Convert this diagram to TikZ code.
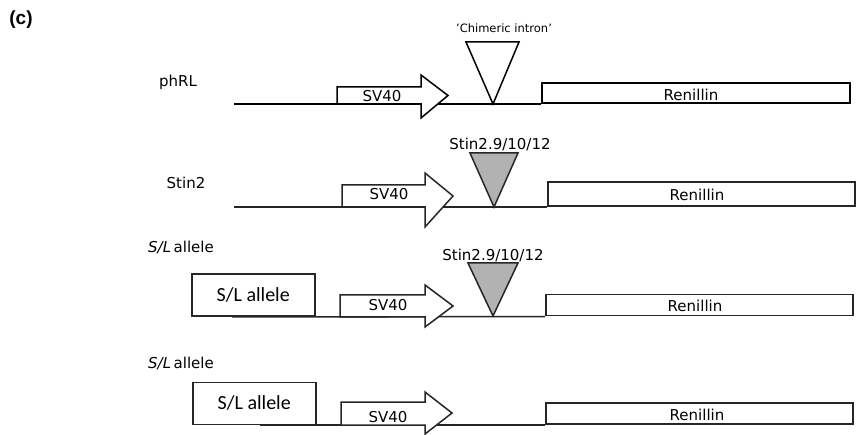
\documentclass[tikz,border=0pt]{standalone}
\usepackage{fontspec}
\setmainfont{DejaVu Sans}
\newfontfamily\carlito{Carlito}
\newfontfamily\arialf{Liberation Sans}
\tikzset{
  lbl/.style={inner sep=0pt, font=\fontsize{15}{15}\selectfont},
  small/.style={inner sep=0pt, font=\fontsize{11.5}{12}\selectfont},
  bb/.style={line width=1.5pt},
  renbox/.style={draw, line width=1.8pt, fill=white, inner sep=0pt, anchor=south west,
     font=\fontsize{15}{15}\selectfont},
  slbox/.style={draw, line width=1.5pt, fill=white, inner sep=0pt, anchor=south west,
     minimum width=123pt, minimum height=42pt, font=\carlito\fontsize{20}{20}\selectfont},
  sv/.style={draw, line width=1.5pt, fill=white, line join=miter},
  tri/.style={draw, line width=1.5pt, line join=miter},
}
\begin{document}
\begin{tikzpicture}[x=1pt,y=-1pt]
\useasboundingbox (0,0) rectangle (856,435);

\node[inner sep=0pt, font=\arialf\bfseries\fontsize{19}{19}\selectfont] (c) at (21,20) {(c)};

% ---------- row 1: phRL ----------
\begin{scope}
\node[lbl] (lab1) at (178,82) {phRL};
\coordinate (s1) at (234,104);
\node[renbox, minimum width=308pt, minimum height=20pt] (ren1) at (541,104) {};
\node[lbl] (rt1) at (691,95) {Renillin};
\draw[bb] (s1) -- (ren1.south west);
\draw[sv] (337,87) -- (421,87) -- (421,75) -- (448,95.5) -- (421,118) -- (421,104) -- (337,104) -- cycle;
\node[lbl] (sv1) at (382,96) {SV40};
\coordinate (t1) at (493,104);
\draw[tri, fill=white] (466,42) -- (519,42) -- (t1) -- cycle;
\node[small] (ci) at (504,28) {'Chimeric intron'};
\end{scope}

% ---------- row 2: Stin2 ----------
\begin{scope}[black!85]
\node[lbl, text=black] (lab2) at (186,183) {Stin2};
\coordinate (s2) at (234,207);
\node[renbox, minimum width=307pt, minimum height=24pt] (ren2) at (547,207) {};
\node[lbl, text=black] (rt2) at (697,195) {Renillin};
\draw[bb] (s2) -- (ren2.south west);
\draw[sv] (342,185) -- (425,185) -- (425,173) -- (453,196) -- (425,227) -- (425,207) -- (342,207) -- cycle;
\node[lbl, text=black] (sv2) at (389,194) {SV40};
\coordinate (t2) at (494,207);
\draw[tri, fill=black!30] (470,153) -- (518,153) -- (t2) -- cycle;
\node[lbl, text=black] (st2) at (500,145) {Stin2.9/10/12};
\end{scope}

% ---------- row 3: S/L allele ----------
\begin{scope}[black!85]
\node[lbl, text=black] (lab3) at (181,247) {{\itshape S/L}\,allele};
\node[slbox, text=black] (sl3) at (191,317) {S/L allele};
\coordinate (s3) at (232,317);
\node[renbox, minimum width=307pt, minimum height=21pt] (ren3) at (545,316.5) {};
\node[lbl, text=black] (rt3) at (695,306) {Renillin};
\draw[bb] (s3) -- (ren3.south west);
\draw[sv] (340,295) -- (425,295) -- (425,285) -- (453,306) -- (425,327) -- (425,317) -- (340,317) -- cycle;
\node[lbl, text=black] (sv3) at (388,305) {SV40};
\coordinate (t3) at (493,316);
\draw[tri, fill=black!30] (468,263) -- (518,263) -- (t3) -- cycle;
\node[lbl, text=black] (st3) at (493,255) {Stin2.9/10/12};
\end{scope}

% ---------- row 4: S/L allele ----------
\begin{scope}[black!85]
\node[lbl, text=black] (lab4) at (181,363) {{\itshape S/L}\,allele};
\node[slbox, text=black] (sl4) at (192,425) {S/L allele};
\coordinate (s4) at (260,425);
\node[renbox, minimum width=307pt, minimum height=21pt] (ren4) at (545,425) {};
\node[lbl, text=black] (rt4) at (697,415) {Renillin};
\draw[bb] (s4) -- (ren4.south west);
\draw[sv] (341,402) -- (425,402) -- (425,392) -- (452,413) -- (425,434) -- (425,425) -- (341,425) -- cycle;
\node[lbl, text=black] (sv4) at (388,417) {SV40};
\end{scope}
\end{tikzpicture}
\end{document}
